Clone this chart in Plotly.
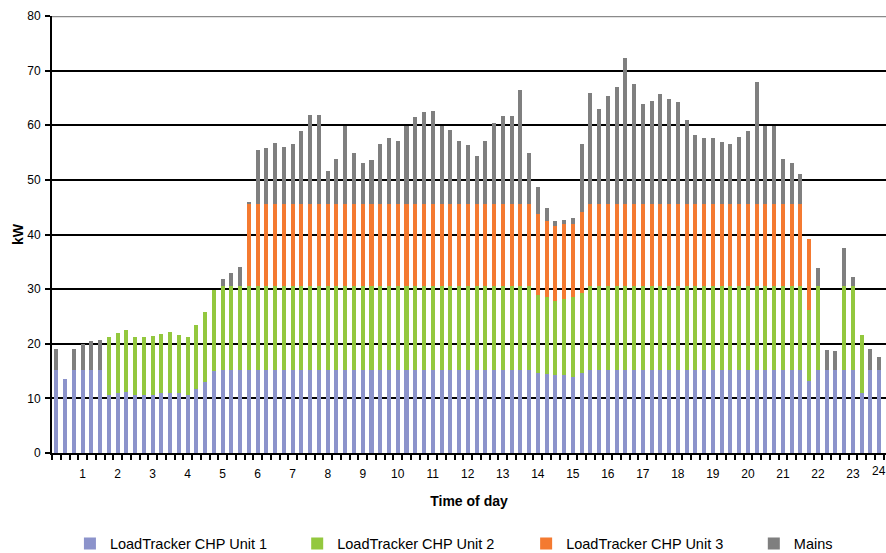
import plotly.graph_objects as go

# quarter-hour slots, 00:15 ... 24:00 (hours)
SLOTS = [(i + 1) / 4 for i in range(96)]
HOUR_TICKS = list(range(1, 24))

UNIT1 = [
    15.2, 13.6, 15.2, 15.2, 15.2, 15.2, 10.6, 11.0, 11.2, 10.6, 10.6, 10.6,
    10.9, 11.0, 10.9, 10.6, 11.7, 13.0, 15.0, 15.2, 15.2, 15.2, 15.2, 15.2,
    15.2, 15.2, 15.2, 15.2, 15.2, 15.2, 15.2, 15.2, 15.2, 15.2, 15.2, 15.2,
    15.2, 15.2, 15.2, 15.2, 15.2, 15.2, 15.2, 15.2, 15.2, 15.2, 15.2, 15.2,
    15.2, 15.2, 15.2, 15.2, 15.2, 15.2, 15.2, 14.6, 14.5, 14.2, 14.2, 14.0,
    14.6, 15.2, 15.2, 15.2, 15.2, 15.2, 15.2, 15.2, 15.2, 15.2, 15.2, 15.2,
    15.2, 15.2, 15.2, 15.2, 15.2, 15.2, 15.2, 15.2, 15.2, 15.2, 15.2, 15.2,
    15.2, 15.2, 13.1, 15.2, 15.2, 15.2, 15.2, 15.2, 10.9, 15.2, 15.2, 15.2,
]
UNIT2 = [
    0, 0, 0, 0, 0, 0, 10.6, 11.0, 11.4, 10.6, 10.6, 10.8,
    10.9, 11.1, 10.7, 10.6, 11.7, 12.9, 14.9, 15.3, 15.3, 15.3, 15.3, 15.3,
    15.3, 15.3, 15.3, 15.3, 15.3, 15.3, 15.3, 15.3, 15.3, 15.3, 15.3, 15.3,
    15.3, 15.3, 15.3, 15.3, 15.3, 15.3, 15.3, 15.3, 15.3, 15.3, 15.3, 15.3,
    15.3, 15.3, 15.3, 15.3, 15.3, 15.3, 15.3, 14.3, 14.0, 13.7, 14.0, 14.5,
    14.7, 15.3, 15.3, 15.3, 15.3, 15.3, 15.3, 15.3, 15.3, 15.3, 15.3, 15.3,
    15.3, 15.3, 15.3, 15.3, 15.3, 15.3, 15.3, 15.3, 15.3, 15.3, 15.3, 15.3,
    15.3, 15.3, 13.0, 15.3, 0, 0, 15.3, 15.3, 10.7, 0, 0, 0,
]
UNIT3 = [
    0, 0, 0, 0, 0, 0, 0, 0, 0, 0, 0, 0,
    0, 0, 0, 0, 0, 0, 0, 0, 0, 0, 15.1, 15.1,
    15.1, 15.1, 15.1, 15.1, 15.1, 15.1, 15.1, 15.1, 15.1, 15.1, 15.1, 15.1,
    15.1, 15.1, 15.1, 15.1, 15.1, 15.1, 15.1, 15.1, 15.1, 15.1, 15.1, 15.1,
    15.1, 15.1, 15.1, 15.1, 15.1, 15.1, 15.1, 14.8, 14.0, 13.7, 13.7, 13.4,
    14.8, 15.1, 15.1, 15.1, 15.1, 15.1, 15.1, 15.1, 15.1, 15.1, 15.1, 15.1,
    15.1, 15.1, 15.1, 15.1, 15.1, 15.1, 15.1, 15.1, 15.1, 15.1, 15.1, 15.1,
    15.1, 15.1, 13.1, 0, 0, 0, 0, 0, 0, 0, 0, 0,
]
MAINS = [
    3.8, 0, 3.8, 4.8, 5.3, 5.5, 0, 0, 0, 0, 0, 0,
    0, 0, 0, 0, 0, 0, 0, 1.4, 2.5, 3.6, 0.4, 9.9,
    10.3, 11.2, 10.5, 10.9, 13.4, 16.3, 16.3, 6.0, 8.3, 14.2, 9.4, 7.4,
    8.1, 10.9, 12.0, 11.5, 14.2, 15.9, 16.8, 17.0, 14.2, 13.5, 11.5, 10.7,
    8.7, 11.5, 14.8, 16.1, 16.1, 20.9, 9.4, 5.0, 2.3, 0.9, 0.8, 1.1,
    12.5, 20.3, 17.4, 19.8, 21.4, 26.8, 21.9, 18.3, 18.9, 20.1, 19.2, 18.7,
    15.4, 12.6, 12.1, 12.1, 11.4, 11.0, 12.3, 13.4, 22.3, 14.2, 14.2, 8.2,
    7.4, 5.4, 0, 3.3, 3.7, 3.5, 7.1, 1.7, 0, 3.8, 2.4, 4.4,
]

SERIES = [
    ("LoadTracker CHP Unit 1", UNIT1, "#8C93CB"),
    ("LoadTracker CHP Unit 2", UNIT2, "#93C83E"),
    ("LoadTracker CHP Unit 3", UNIT3, "#F47A31"),
    ("Mains", MAINS, "#7F7F7F"),
]
# one legend per series so the entries can sit where the original has them
LEGEND_IDS = ["legend", "legend2", "legend3", "legend4"]
LEGEND_X = [0.0215, 0.294, 0.5685, 0.8415]

FONT = "Liberation Sans, Arial, sans-serif"

fig = go.Figure()
for (name, values, color), legend_id in zip(SERIES, LEGEND_IDS):
    fig.add_bar(
        x=SLOTS,
        y=values,
        name=name,
        legend=legend_id,
        marker={"color": color, "line": {"width": 0}},
        hovertemplate=f"{name}<br>%{{x:.2f}} h<br>%{{y:.1f}} kW<extra></extra>",
    )

legend_style = {
    "orientation": "h",
    "xanchor": "left",
    "y": -0.2074,
    "yanchor": "middle",
    "font": {"size": 14.5, "family": FONT, "color": "#000"},
    "bgcolor": "rgba(0,0,0,0)",
    "itemclick": False,
}
fig.update_layout(
    {legend_id: dict(legend_style, x=x) for legend_id, x in zip(LEGEND_IDS, LEGEND_X)}
)

# top border line at 80 kW is grey in the original
fig.add_shape(
    type="line", xref="paper", yref="y", x0=0, x1=1, y0=80, y1=80,
    line={"color": "#8a8a8a", "width": 2.5}, layer="above",
)
# "24" label at the right edge, where the original chart is cropped
fig.add_annotation(
    x=1.0023, y=0, xref="paper", yref="y", yshift=-18, showarrow=False,
    text="24", font={"family": FONT, "size": 12, "color": "#000"},
)

fig.update_layout(
    width=886,
    height=553,
    barmode="stack",
    bargap=0.54,
    margin={"l": 52, "r": 0, "t": 16, "b": 100, "autoexpand": False},
    paper_bgcolor="white",
    plot_bgcolor="white",
    font={"family": FONT, "color": "#000"},
    showlegend=True,
    xaxis={
        "range": [0.125, 23.945],
        "automargin": False,
        "tickmode": "array",
        "tickvals": HOUR_TICKS,
        "ticktext": [str(h) for h in HOUR_TICKS],
        "ticks": "",
        "ticklabelstandoff": 9,
        "tickfont": {"size": 12, "family": FONT, "color": "#000"},
        "showgrid": False,
        "zeroline": False,
        "showline": True,
        "linecolor": "#000",
        "linewidth": 2,
        "minor": {
            "tick0": 0.125,
            "dtick": 0.25,
            "ticks": "outside",
            "ticklen": 5,
            "tickwidth": 1.5,
            "tickcolor": "#000",
            "showgrid": False,
        },
        "title": {
            "text": "<b>Time of day</b>",
            "font": {"size": 14, "family": FONT, "color": "#000"},
            "standoff": 16,
        },
        "fixedrange": True,
    },
    yaxis={
        "range": [0, 80],
        "automargin": False,
        "dtick": 10,
        "tick0": 0,
        "ticks": "outside",
        "ticklen": 5,
        "tickwidth": 1.5,
        "tickcolor": "#000",
        "ticklabelstandoff": 2,
        "tickfont": {"size": 12, "family": FONT, "color": "#000"},
        "showgrid": True,
        "gridcolor": "#000",
        "gridwidth": 1.5,
        "zeroline": False,
        "showline": True,
        "linecolor": "#000",
        "linewidth": 2,
        "title": {
            "text": "<b>kW</b>",
            "font": {"size": 14, "family": FONT, "color": "#000"},
            "standoff": 0,
        },
        "fixedrange": True,
    },
)

# drop the browser's default 8px body margin so the figure fills the window exactly
fig.write_html(
    "out.html",
    config={"displayModeBar": False},
    post_script="document.body.style.margin = '0';",
)
